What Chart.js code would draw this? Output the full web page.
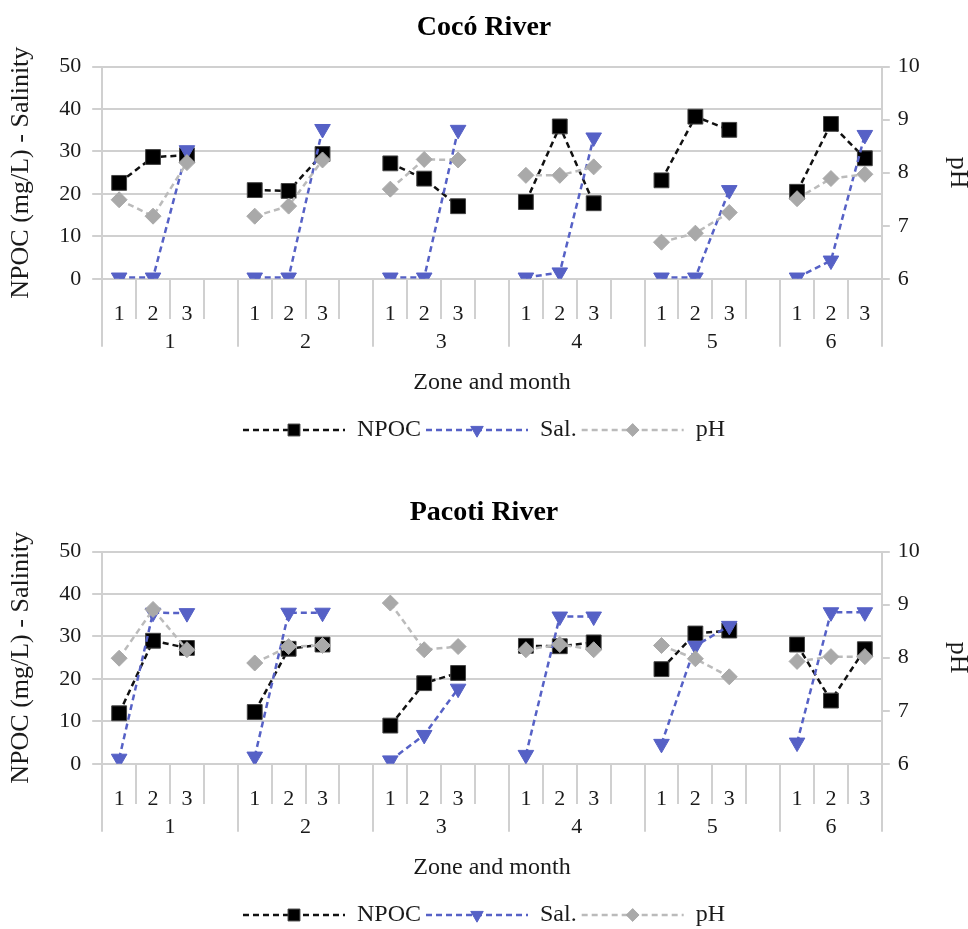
<!DOCTYPE html>
<html>
<head>
<meta charset="utf-8">
<script src="https://cdn.jsdelivr.net/npm/chart.js@4.4.1/dist/chart.umd.min.js"></script>
<style>
  html, body { margin: 0; padding: 0; background: #fff; overflow: hidden; }
  .panel { position: absolute; left: 0; width: 968px; height: 452px; }
  #coco { top: 0; }
  #pacoti { top: 485px; }
</style>
</head>
<body>
<div class="panel" id="coco"><canvas id="cocoChart"></canvas></div>
<div class="panel" id="pacoti"><canvas id="pacotiChart"></canvas></div>
<script>
// x axis: zone (outer) and month (inner)
const zones = ['1', '2', '3', '4', '5', '6'];
const months = ['1', '2', '3'];

// Cocó River
const cocoNpoc = [22.6, 28.7, 29.1, 20.9, 20.7, 29.4, 27.2, 23.6, 17.1, 18.1, 35.9, 17.8, 23.2, 38.2, 35.1, 20.5, 36.5, 28.4];
const cocoSal = [0.3, 0.3, 30.3, 0.3, 0.3, 35.3, 0.3, 0.3, 35.1, 0.3, 1.5, 33.3, 0.3, 0.3, 20.9, 0.3, 4.3, 33.9];
const cocoPh = [7.49, 7.18, 8.19, 7.18, 7.37, 8.24, 7.69, 8.25, 8.24, 7.95, 7.95, 8.11, 6.69, 6.86, 7.25, 7.51, 7.89, 7.97];

// Pacoti River
const pacotiNpoc = [11.9, 29.0, 27.3, 12.2, 27.1, 28.1, 9.0, 19.0, 21.4, 27.8, 27.7, 28.6, 22.3, 30.7, 31.4, 28.1, 14.9, 27.0];
const pacotiSal = [1.2, 35.6, 35.5, 1.7, 35.6, 35.6, 0.8, 6.8, 17.7, 2.1, 34.7, 34.7, 4.7, 27.8, 32.5, 5.0, 35.7, 35.7];
const pacotiPh = [7.99, 8.91, 8.15, 7.90, 8.21, 8.23, 9.03, 8.15, 8.21, 8.15, 8.25, 8.15, 8.23, 7.98, 7.64, 7.93, 8.02, 8.02];

const gridColor = '#d0d0d0';
const textColor = '#1a1a1a';
Chart.defaults.font.family = "'Liberation Serif', 'Times New Roman', serif";
Chart.defaults.color = textColor;

// one blank slot between zones, like the excel sheet
const monthLabels = [];
zones.forEach((z, i) => {
  months.forEach(m => monthLabels.push(m));
  if (i < zones.length - 1) monthLabels.push('');
});

function spread(values) {
  const out = [];
  zones.forEach((z, i) => {
    months.forEach((m, j) => out.push(values[i * months.length + j]));
    if (i < zones.length - 1) out.push(null);
  });
  return out;
}

const zoneEdges = [-0.5];
zones.forEach((z, i) => {
  zoneEdges.push(i * (months.length + 1) + months.length - 0.5 + (i < zones.length - 1 ? 1 : 0));
});
const zoneCenters = zones.map((z, i) => (zoneEdges[i] + zoneEdges[i + 1]) / 2);
const zoneTicks = zoneEdges.concat(zoneCenters).sort((a, b) => a - b);

const legendMarkers = {
  id: 'legendMarkers',
  afterDraw(chart) {
    const legend = chart.legend;
    const ctx = chart.ctx;
    const boxWidth = legend.options.labels.pointStyleWidth;
    legend.legendItems.forEach((item, i) => {
      const box = legend.legendHitBoxes[i];
      const ds = chart.data.datasets[item.datasetIndex];
      ctx.save();
      ctx.setLineDash([]);
      ctx.fillStyle = ds.pointBackgroundColor;
      ctx.strokeStyle = ds.pointBorderColor;
      ctx.lineWidth = 1;
      Chart.helpers.drawPoint(ctx, {
        pointStyle: ds.pointStyle,
        rotation: ds.pointRotation || 0,
        radius: ds.pointRadius * 0.8,
        borderWidth: 1
      }, box.left + boxWidth / 2, box.top + box.height / 2);
      ctx.restore();
    });
  }
};

function makeChart(id, title, npoc, sal, ph) {
  return new Chart(document.getElementById(id), {
    type: 'line',
    data: {
      labels: monthLabels,
      datasets: [
        {
          label: 'NPOC',
          data: spread(npoc),
          yAxisID: 'y',
          borderColor: '#111',
          borderDash: [6, 4],
          borderWidth: 2.5,
          pointStyle: 'rect',
          pointRadius: 10.5,
          pointBackgroundColor: '#000',
          pointBorderColor: '#444',
          pointBorderWidth: 1,
          order: 3
        },
        {
          label: 'Sal.',
          data: spread(sal),
          yAxisID: 'y',
          borderColor: '#5661c6',
          borderDash: [6, 4],
          borderWidth: 2.5,
          pointStyle: 'triangle',
          pointRotation: 180,
          pointRadius: 9,
          pointBackgroundColor: '#5661c6',
          pointBorderColor: '#5661c6',
          pointBorderWidth: 1,
          order: 2
        },
        {
          label: 'pH',
          data: spread(ph),
          yAxisID: 'y1',
          borderColor: '#bbbbbb',
          borderDash: [6, 4],
          borderWidth: 2.5,
          pointStyle: 'rectRot',
          pointRadius: 8,
          pointBackgroundColor: '#a9a9a9',
          pointBorderColor: '#a9a9a9',
          pointBorderWidth: 1,
          order: 1
        }
      ]
    },
    options: {
      responsive: true,
      maintainAspectRatio: false,
      animation: false,
      spanGaps: false,
      layout: { padding: 0 },
      plugins: {
        title: {
          display: true,
          text: title,
          color: '#000',
          font: { size: 28, weight: 'bold' },
          padding: { top: 11, bottom: 22 }
        },
        legend: {
          position: 'bottom',
          labels: {
            usePointStyle: true,
            pointStyleWidth: 102,
            padding: 5,
            color: textColor,
            font: { size: 24 },
            sort: (a, b) => a.datasetIndex - b.datasetIndex,
            generateLabels: chart => Chart.defaults.plugins.legend.labels.generateLabels(chart)
              .map(l => {
                const ds = chart.data.datasets[l.datasetIndex];
                return Object.assign(l, {
                  pointStyle: 'line',
                  rotation: 0,
                  strokeStyle: ds.borderColor,
                  lineWidth: ds.borderWidth,
                  lineDash: ds.borderDash
                });
              })
          }
        },
        tooltip: { enabled: false }
      },
      scales: {
        x: {
          type: 'category',
          position: { y: 0 },
          offset: true,
          grid: { offset: true, drawOnChartArea: false, tickLength: 39, color: gridColor, lineWidth: 2 },
          border: { color: gridColor, width: 2 },
          ticks: { autoSkip: false, maxRotation: 0, padding: -17, font: { size: 22 }, color: textColor }
        },
        x2: {
          type: 'linear',
          position: 'bottom',
          min: -0.5,
          max: 22.5,
          afterBuildTicks: axis => { axis.ticks = zoneTicks.map(v => ({ value: v })); },
          grid: {
            drawOnChartArea: false,
            tickLength: 68,
            lineWidth: 2,
            color: ctx => (ctx.tick && zoneEdges.includes(ctx.tick.value)) ? gridColor : 'rgba(0,0,0,0)'
          },
          border: { display: false },
          ticks: {
            autoSkip: false,
            maxRotation: 0,
            padding: -18,
            font: { size: 22 },
            color: textColor,
            callback: v => {
              const i = zoneCenters.indexOf(v);
              return i >= 0 ? zones[i] : '';
            }
          },
          title: {
            display: true,
            text: 'Zone and month',
            color: textColor,
            font: { size: 24 },
            padding: { top: 31, bottom: 16 }
          }
        },
        y: {
          position: 'left',
          min: 0,
          max: 50,
          ticks: { stepSize: 10, padding: 11, font: { size: 22 }, color: textColor },
          grid: { color: gridColor, lineWidth: 2, tickLength: 10 },
          border: { color: gridColor, width: 2 },
          title: {
            display: true,
            text: 'NPOC (mg/L) - Salinity',
            color: textColor,
            font: { size: 26 },
            padding: { top: 6, bottom: 11 }
          }
        },
        y1: {
          position: 'right',
          min: 6,
          max: 10,
          ticks: { stepSize: 1, padding: 8, font: { size: 22 }, color: textColor },
          grid: { drawOnChartArea: false, color: gridColor, lineWidth: 2, tickLength: 8 },
          border: { color: gridColor, width: 2 },
          title: {
            display: true,
            text: 'pH',
            color: textColor,
            font: { size: 26 },
            padding: { top: -5, bottom: 14 }
          }
        }
      }
    },
    plugins: [legendMarkers]
  });
}

makeChart('cocoChart', 'Cocó River', cocoNpoc, cocoSal, cocoPh);
makeChart('pacotiChart', 'Pacoti River', pacotiNpoc, pacotiSal, pacotiPh);
</script>
</body>
</html>
